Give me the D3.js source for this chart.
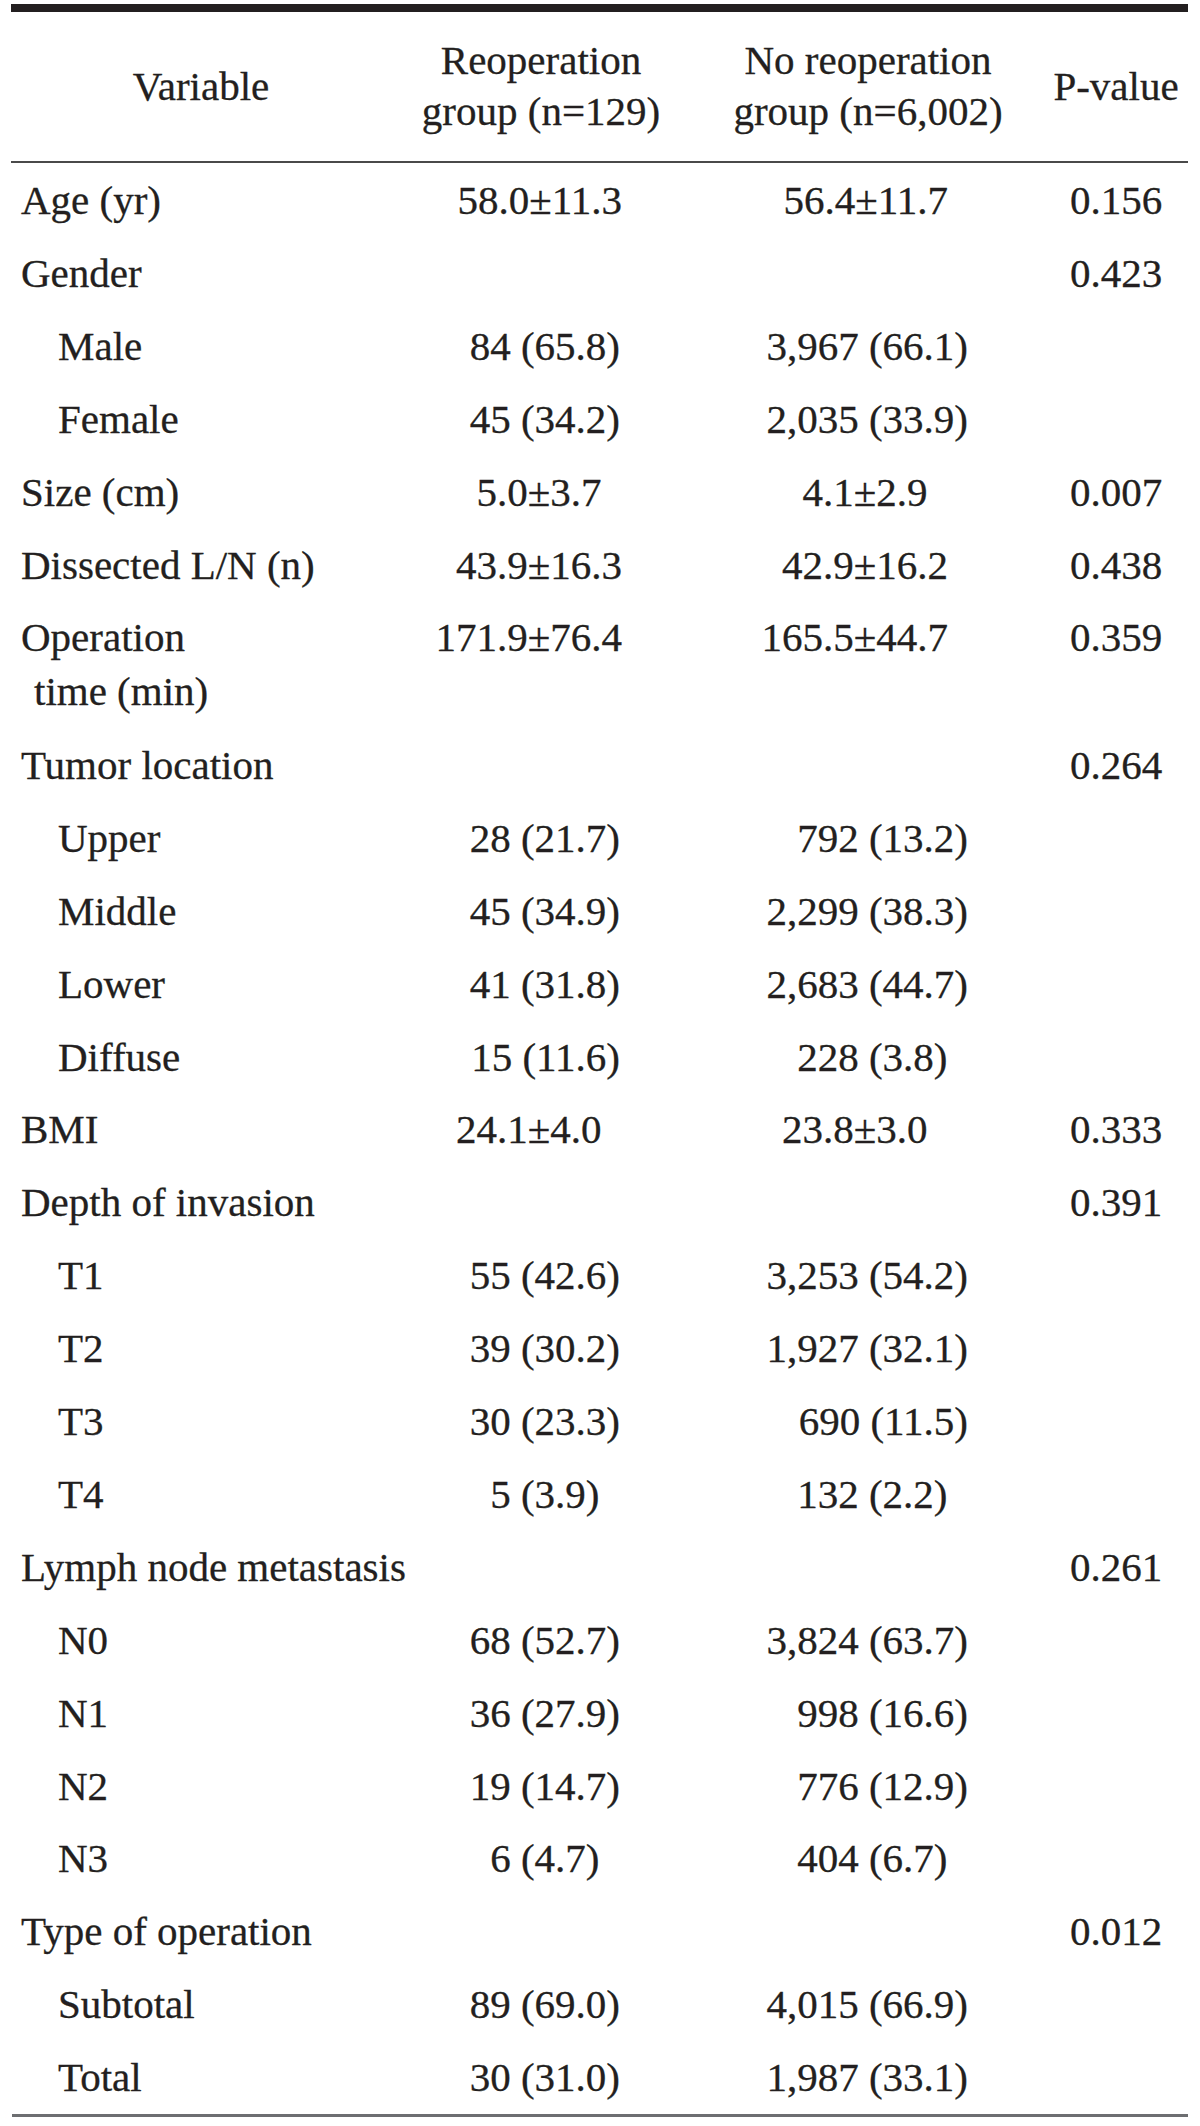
<!DOCTYPE html>
<html>
<head>
<meta charset="utf-8">
<script src="https://cdn.jsdelivr.net/npm/d3@7"></script>
<style>
  html, body { margin: 0; padding: 0; background: #ffffff; }
  svg { display: block; }
  text { font-family: "Liberation Serif", "DejaVu Serif", serif; fill: #231f20; stroke: #231f20; stroke-width: 0.3px; }
</style>
</head>
<body>
<div id="chart"></div>
<script>
// ---- Data ----
const headers = [
  ["Variable"],
  ["Reoperation", "group (n=129)"],
  ["No reoperation", "group (n=6,002)"],
  ["P-value"]
];
const variables = [
  "Age (yr)", "Gender", "Male", "Female", "Size (cm)", "Dissected L/N (n)",
  "Operation\ntime (min)", "Tumor location", "Upper", "Middle", "Lower", "Diffuse",
  "BMI", "Depth of invasion", "T1", "T2", "T3", "T4",
  "Lymph node metastasis", "N0", "N1", "N2", "N3",
  "Type of operation", "Subtotal", "Total"
];
const levels = [0,0,1,1,0,0,0,0,1,1,1,1,0,0,1,1,1,1,0,1,1,1,1,0,1,1];
const reoperation = [
  "58.0±11.3", "", "84 (65.8)", "45 (34.2)", "5.0±3.7", "43.9±16.3",
  "171.9±76.4", "", "28 (21.7)", "45 (34.9)", "41 (31.8)", "15 (11.6)",
  "24.1±4.0", "", "55 (42.6)", "39 (30.2)", "30 (23.3)", "5 (3.9)",
  "", "68 (52.7)", "36 (27.9)", "19 (14.7)", "6 (4.7)",
  "", "89 (69.0)", "30 (31.0)"
];
const noReoperation = [
  "56.4±11.7", "", "3,967 (66.1)", "2,035 (33.9)", "4.1±2.9", "42.9±16.2",
  "165.5±44.7", "", "792 (13.2)", "2,299 (38.3)", "2,683 (44.7)", "228 (3.8)",
  "23.8±3.0", "", "3,253 (54.2)", "1,927 (32.1)", "690 (11.5)", "132 (2.2)",
  "", "3,824 (63.7)", "998 (16.6)", "776 (12.9)", "404 (6.7)",
  "", "4,015 (66.9)", "1,987 (33.1)"
];
const pValues = [
  "0.156", "0.423", "", "", "0.007", "0.438",
  "0.359", "0.264", "", "", "", "",
  "0.333", "0.391", "", "", "", "",
  "0.261", "", "", "", "",
  "0.012", "", ""
];

// ---- Layout ----
const W = 1200, H = 2126;
const FS = 41;
const svg = d3.select("#chart").append("svg").attr("width", W).attr("height", H);

const x0 = 11, x1 = 1188;
const headX = d3.scaleOrdinal().domain([0,1,2,3]).range([201, 541, 868, 1116]);
const edge = {
  reop: {count: 620, mean: 622},
  noreop: {count: 968, mean: 948}
};

const slots = [];
let s = 0;
variables.forEach((v) => {
  slots.push(s);
  const n = v.split("\n").length;
  s += 1 + (n - 1) * 0.75;
});
const y = d3.scaleLinear().domain([0, 1]).range([214, 214 + 72.9]);
const lineGap = 54;

// rules
svg.append("rect").attr("x", x0).attr("y", 4).attr("width", x1 - x0).attr("height", 8).attr("fill", "#231f20");
svg.append("rect").attr("x", x0).attr("y", 161).attr("width", x1 - x0).attr("height", 2).attr("fill", "#4a4a4a");
svg.append("rect").attr("x", x0 + 1).attr("y", 2114).attr("width", x1 - x0 - 1).attr("height", 3).attr("fill", "#6d6e71");

// headers
const hdr = svg.append("g");
headers.forEach((lines, ci) => {
  const t = hdr.append("text").attr("text-anchor", "middle").attr("font-size", FS);
  if (lines.length === 1) {
    t.attr("x", headX(ci)).attr("y", 100).text(lines[0]);
  } else {
    lines.forEach((ln, li) => {
      t.append("tspan").attr("x", headX(ci)).attr("y", li === 0 ? 74 : 125).text(ln);
    });
  }
});

// body
const body = svg.append("g");
const rows = body.selectAll("g.row").data(variables.map((v, i) => ({
  label: v, level: levels[i], reop: reoperation[i], noreop: noReoperation[i], p: pValues[i], slot: slots[i]
}))).join("g").attr("class", "row");

rows.each(function(d) {
  const g = d3.select(this);
  const by = y(d.slot);
  d.label.split("\n").forEach((ln, li) => {
    g.append("text")
      .attr("x", 21 + d.level * 37 + (li > 0 ? 13 : 0))
      .attr("y", by + li * lineGap)
      .attr("font-size", FS)
      .text(ln);
  });
  function valueX(str, col) {
    const isMean = str.indexOf("±") >= 0;
    let xe = edge[col][isMean ? "mean" : "count"];
    const m = str.match(/(\d+)\.\d\)?$/);
    if (m && m[1].length === 1) xe -= FS * 0.5;
    return xe;
  }
  if (d.reop) {
    g.append("text").attr("text-anchor", "end").attr("font-size", FS)
      .attr("x", valueX(d.reop, "reop")).attr("y", by).text(d.reop);
  }
  if (d.noreop) {
    g.append("text").attr("text-anchor", "end").attr("font-size", FS)
      .attr("x", valueX(d.noreop, "noreop")).attr("y", by).text(d.noreop);
  }
  if (d.p) {
    g.append("text").attr("text-anchor", "middle").attr("font-size", FS)
      .attr("x", headX(3)).attr("y", by).text(d.p);
  }
});
</script>
</body>
</html>
